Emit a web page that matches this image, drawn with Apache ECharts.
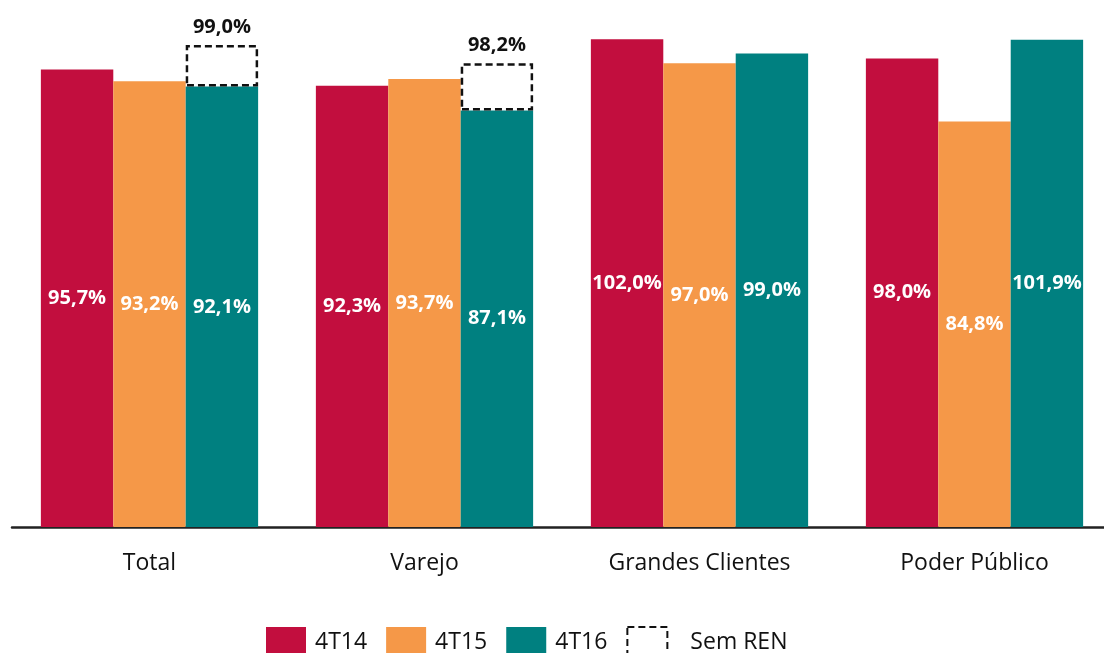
<!DOCTYPE html>
<html>
<head>
<meta charset="utf-8">
<script src="https://cdn.jsdelivr.net/npm/echarts@6/dist/echarts.min.js"></script>
<style>
  html, body { margin: 0; padding: 0; background: #fff; }
  #chart { width: 1104px; height: 653px; }
</style>
</head>
<body>
<div id="chart"></div>
<script>
// dados
const categories = ['Total', 'Varejo', 'Grandes Clientes', 'Poder Público']
const s4T14 = [95.7, 92.3, 102.0, 98.0]
const s4T15 = [93.2, 93.7, 97.0, 84.8]
const s4T16 = [92.1, 87.1, 99.0, 101.9]
const semRenTop = [100.8, 97.0, null, null]
const semRenLabels = [99.0, 98.2, null, null]

const fmt = v => v.toFixed(1).replace('.', ',') + '%'
const font = '"Open Sans", "Noto Sans", sans-serif'

const chart = echarts.init(document.getElementById('chart'))

const insideLabel = {
  show: true,
  position: 'inside',
  color: '#fff',
  fontFamily: font,
  fontWeight: 'bold',
  fontSize: 20,
  formatter: p => fmt(p.value)
}

const dashed = { color: '#fff', borderColor: '#111', borderWidth: 2, borderType: [7, 4] }

const option = {
  animation: false,
  grid: { left: 12, width: 1100, top: 1, bottom: 126, containLabel: false, outerBoundsMode: 'none' },
  legend: {
    left: 261,
    top: 621,
    itemWidth: 40,
    itemHeight: 30,
    itemGap: 19,
    icon: 'rect',
    textStyle: { fontFamily: font, fontSize: 23, color: '#111', padding: [0, 0, 0, 4] },
    data: [
      { name: '4T14', icon: 'rect' },
      { name: '4T15', icon: 'rect' },
      { name: '4T16', icon: 'rect' },
      { name: 'Sem REN', icon: 'rect', itemStyle: dashed, textStyle: { padding: [0, 0, 0, 18] } }
    ]
  },
  xAxis: {
    type: 'category',
    data: categories,
    axisTick: { show: false },
    axisLine: { lineStyle: { color: '#222', width: 2.5 } },
    axisLabel: { fontFamily: font, fontSize: 23, color: '#111', margin: 25 }
  },
  yAxis: {
    type: 'value',
    min: 0,
    max: 110,
    show: false,
    splitLine: { show: false }
  },
  series: [
    {
      name: '4T14', type: 'bar', data: s4T14, barGap: '0%', barCategoryGap: '21%',
      itemStyle: { color: '#C20E3E' }, label: insideLabel
    },
    {
      name: '4T15', type: 'bar', data: s4T15,
      itemStyle: { color: '#F59848' }, label: insideLabel
    },
    {
      name: '4T16', type: 'bar', data: s4T16, stack: 'ren',
      itemStyle: { color: '#008080' }, label: insideLabel
    },
    {
      name: 'Sem REN', type: 'bar', stack: 'ren',
      data: semRenTop.map((v, i) => v == null ? '-' : +(v - s4T16[i]).toFixed(1)),
      itemStyle: Object.assign({}, dashed, { color: 'rgba(255,255,255,0)', borderWidth: 2.5 }),
      label: {
        show: true,
        position: 'top',
        distance: 8,
        color: '#111',
        fontFamily: font,
        fontWeight: 'bold',
        fontSize: 20,
        formatter: p => semRenLabels[p.dataIndex] == null ? '' : fmt(semRenLabels[p.dataIndex])
      }
    }
  ]
}

chart.setOption(option)
window.addEventListener('resize', () => chart.resize())
</script>
</body>
</html>
